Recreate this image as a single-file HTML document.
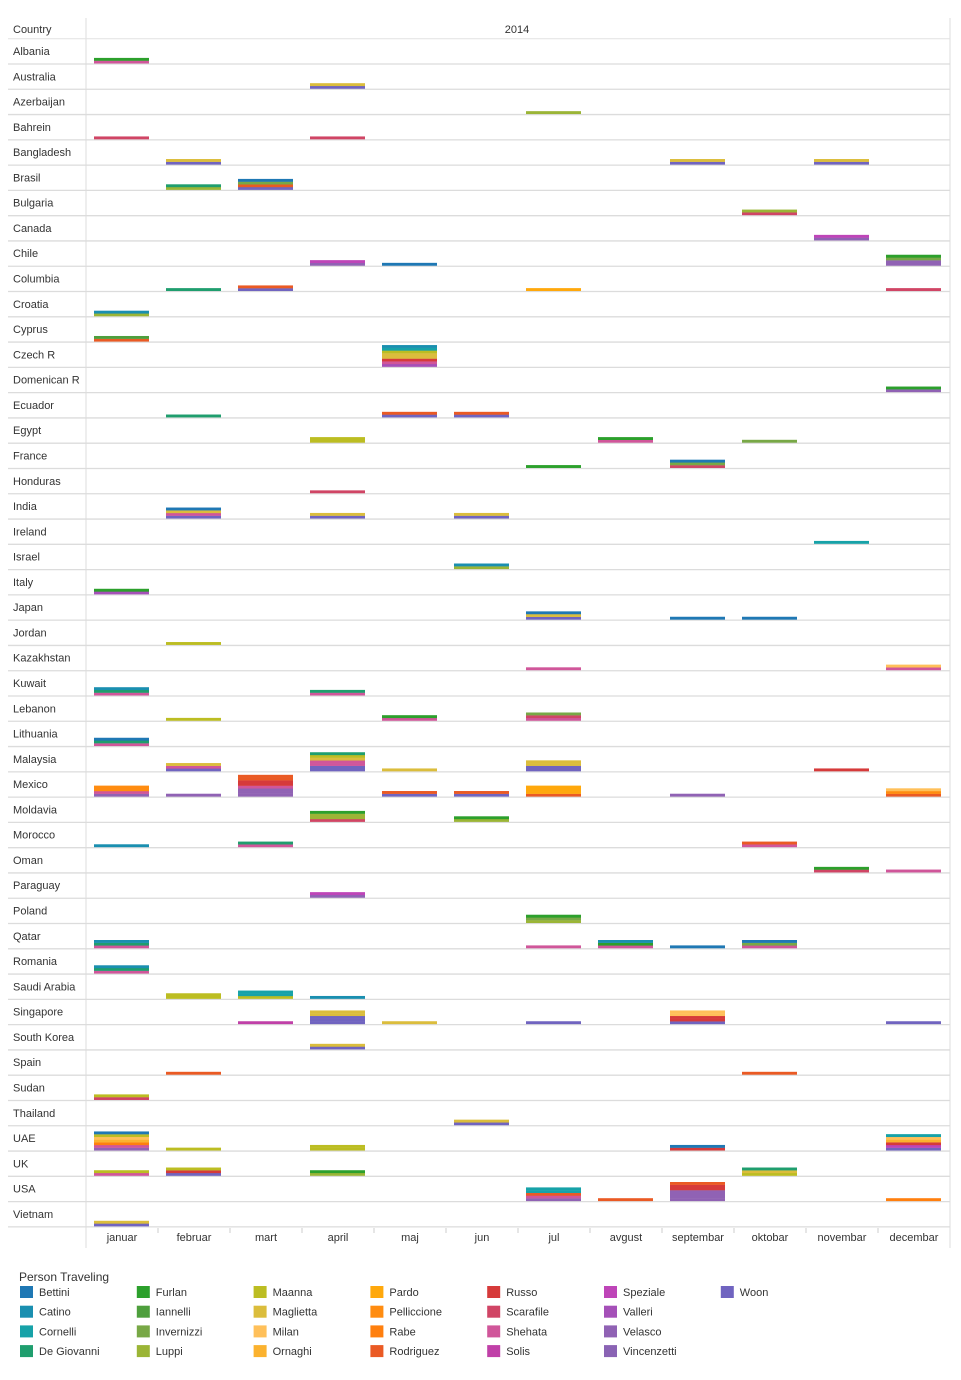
<!DOCTYPE html>
<html><head><meta charset="utf-8"><style>
body{margin:0;background:#fff;font-family:"Liberation Sans",sans-serif}
svg text{font-family:"Liberation Sans",sans-serif;fill:#333}
</style></head><body>
<svg id="c" width="961" height="1375" xmlns="http://www.w3.org/2000/svg"></svg>
<script>
const countries=["Albania","Australia","Azerbaijan","Bahrein","Bangladesh","Brasil","Bulgaria","Canada","Chile","Columbia","Croatia","Cyprus","Czech R","Domenican R","Ecuador","Egypt","France","Honduras","India","Ireland","Israel","Italy","Japan","Jordan","Kazakhstan","Kuwait","Lebanon","Lithuania","Malaysia","Mexico","Moldavia","Morocco","Oman","Paraguay","Poland","Qatar","Romania","Saudi Arabia","Singapore","South Korea","Spain","Sudan","Thailand","UAE","UK","USA","Vietnam"];
const months=["januar","februar","mart","april","maj","jun","jul","avgust","septembar","oktobar","novembar","decembar"];
const persons=["Bettini","Catino","Cornelli","De Giovanni","Furlan","Iannelli","Invernizzi","Luppi","Maanna","Maglietta","Milan","Ornaghi","Pardo","Pelliccione","Rabe","Rodriguez","Russo","Scarafile","Shehata","Solis","Speziale","Valleri","Velasco","Vincenzetti","Woon"];
const codes="abcdefghijklmnopqrstuvwxy";
const colors=["#1f78b4","#1a8fb0","#17a2a8","#1f9e6e","#2ca02c","#4e9f3d","#78a846","#9bb536","#bcbd22","#dbbd3c","#ffc05a","#fbb22f","#ffa80c","#ff8c10","#ff7f0e","#ea5a24","#d63a3a","#d04565","#d0569a","#c040a8","#be45b8","#a550b8","#9062b4","#8a63b4","#7064c0"];
// trips: [countryIndex, monthIndex, stack codes bottom-to-top]
const trips=[[0,0,"se"],[1,3,"yj"],[2,6,"h"],[3,0,"r"],[3,3,"r"],[4,1,"yj"],[4,8,"yj"],[4,10,"yj"],[5,1,"hd"],[5,2,"ypga"],[6,9,"rh"],[7,10,"wu"],[8,3,"wu"],[8,4,"a"],[8,11,"wwge"],[9,1,"d"],[9,2,"yp"],[9,6,"m"],[9,11,"r"],[10,0,"hb"],[11,0,"pf"],[12,4,"vsqjjicb"],[13,11,"we"],[14,1,"d"],[14,4,"yp"],[14,5,"yp"],[15,3,"ii"],[15,7,"se"],[15,9,"g"],[16,6,"e"],[16,8,"rga"],[17,3,"r"],[18,1,"ysja"],[18,3,"yj"],[18,5,"yj"],[19,10,"c"],[20,5,"hb"],[21,0,"ve"],[22,6,"yja"],[22,8,"a"],[22,9,"a"],[23,1,"i"],[24,6,"s"],[24,11,"sk"],[25,0,"sdb"],[25,3,"sd"],[26,1,"i"],[26,4,"se"],[26,6,"srg"],[27,0,"sda"],[28,1,"ysj"],[28,3,"yyssjid"],[28,4,"j"],[28,6,"yyjj"],[28,10,"q"],[29,0,"wsnn"],[29,1,"w"],[29,2,"wwwsqqpp"],[29,4,"yp"],[29,5,"yp"],[29,6,"pmmm"],[29,8,"w"],[29,11,"pnk"],[30,3,"rhhe"],[30,5,"he"],[31,0,"b"],[31,2,"sd"],[31,9,"sp"],[32,10,"re"],[32,11,"s"],[33,3,"wu"],[34,6,"hge"],[35,0,"sdb"],[35,6,"s"],[35,7,"seb"],[35,8,"a"],[35,9,"sga"],[36,0,"sdb"],[37,1,"ii"],[37,2,"icc"],[37,3,"b"],[38,2,"t"],[38,3,"yyyjj"],[38,4,"j"],[38,6,"y"],[38,8,"yqqkk"],[38,11,"y"],[39,3,"yj"],[40,1,"p"],[40,9,"p"],[41,0,"ri"],[42,5,"yj"],[43,0,"wsolkia"],[43,1,"i"],[43,3,"ii"],[43,8,"qa"],[43,11,"yuqlkc"],[44,0,"si"],[44,1,"yqi"],[44,3,"he"],[44,9,"ijd"],[45,6,"wspcc"],[45,7,"p"],[45,8,"wwwwqqp"],[45,11,"o"],[46,0,"yj"]];
const NS="http://www.w3.org/2000/svg",svg=document.getElementById('c');
const X0=86,COLW=72,Y0=64,ROWH=25.28,UNIT=2.7;
function xM(m){return X0+m*COLW;}
function yBase(r){return Y0+r*ROWH;}
function mk(t,a,p){const e=document.createElementNS(NS,t);for(const k in a)e.setAttribute(k,a[k]);(p||svg).appendChild(e);return e;}
let e;
e=mk('line',{x1:X0,x2:X0,y1:18,y2:1248,stroke:'#ddd'});

e=mk('line',{x1:950,x2:950,y1:18,y2:1248,stroke:'#ddd'});

e=mk('text',{x:13,y:33,'font-size':11});e.textContent='Country';

e=mk('text',{x:517,y:33,'font-size':11,'text-anchor':'middle'});e.textContent='2014';

mk('line',{x1:8,x2:950,y1:38.7,y2:38.7,stroke:'#e2e2e2'});
countries.forEach((c,i)=>{
  e=mk('line',{x1:8,x2:950,y1:yBase(i),y2:yBase(i),stroke:'#dcdcdc','stroke-width':1.3});
  
  e=mk('text',{x:13,y:yBase(i)-9,'font-size':11});e.textContent=c;
  
});
months.forEach((m,i)=>{
  e=mk('text',{x:xM(i)+COLW/2,y:1241,'font-size':11,'text-anchor':'middle'});e.textContent=m;
  
  if(i>0){mk('line',{x1:xM(i),x2:xM(i),y1:1228,y2:1233,stroke:'#ccc'});}
});
trips.forEach(t=>{
  const [r,m,s]=t;let y=yBase(r)-0.7;
  for(const ch of s){
    const pi=codes.indexOf(ch);
    e=mk('rect',{x:xM(m)+8,y:y-UNIT,width:55,height:UNIT+0.2,fill:colors[pi]});
    
    y-=UNIT;
  }
});
e=mk('text',{x:19,y:1281,'font-size':12});e.textContent='Person Traveling';

persons.forEach((p,i)=>{
  const col=Math.floor(i/4),row=i%4,x=20+col*116.8,y=1286+row*19.7;
  const g=mk('g',{});
  
  mk('rect',{x:x,y:y,width:13,height:12,fill:colors[i]},g);
  const tx=mk('text',{x:x+19,y:y+10,'font-size':11},g);tx.textContent=p;
});
</script>
</body></html>
